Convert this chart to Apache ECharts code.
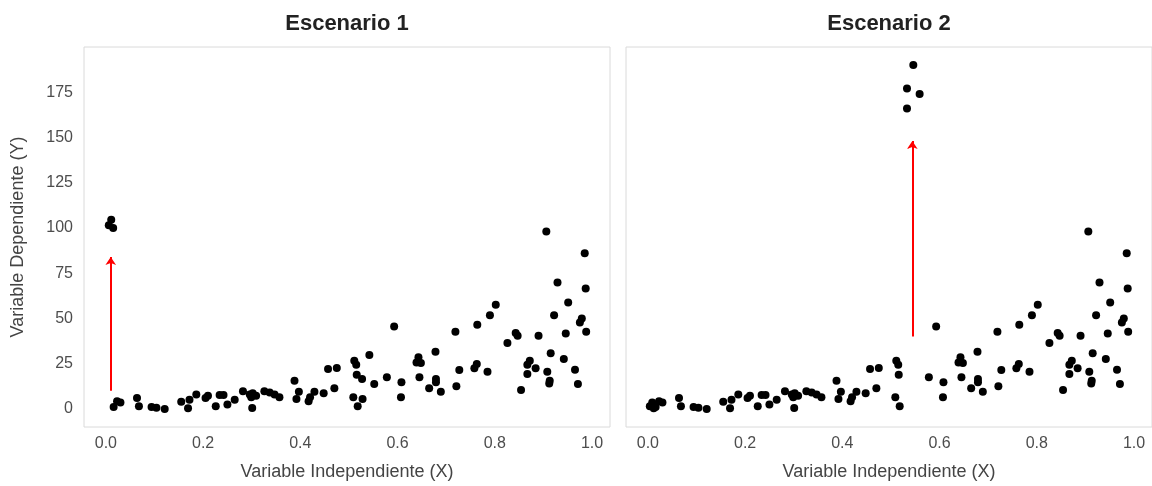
<!DOCTYPE html>
<html>
<head>
<meta charset="utf-8">
<script src="https://cdn.jsdelivr.net/npm/echarts@6/dist/echarts.min.js"></script>
<style>
  html, body { margin: 0; padding: 0; background: #ffffff; }
  #chart { width: 1152px; height: 486px; }
</style>
</head>
<body>
<div id="chart"></div>
<script>
// Shared observations (present in both scenarios)
const baseX = [0.016, 0.023, 0.030, 0.064, 0.068, 0.094, 0.104, 0.121, 0.155, 0.169, 0.172,
  0.186, 0.205, 0.210, 0.226, 0.234, 0.242, 0.250, 0.265, 0.282, 0.296, 0.299, 0.302, 0.301, 0.309,
  0.326, 0.337, 0.347, 0.357, 0.388, 0.397, 0.392, 0.417, 0.420, 0.429, 0.448, 0.457, 0.470, 0.475,
  0.511, 0.515, 0.516, 0.509, 0.518,
  0.578, 0.593, 0.608, 0.607,
  0.643, 0.639, 0.648, 0.645, 0.678, 0.665, 0.679, 0.679, 0.689,
  0.719, 0.727, 0.721, 0.758, 0.763, 0.764, 0.785, 0.790, 0.802,
  0.826, 0.843, 0.847, 0.854, 0.867, 0.872, 0.867, 0.884, 0.890,
  0.906, 0.908, 0.913, 0.912, 0.915, 0.922, 0.929,
  0.942, 0.946, 0.951, 0.965, 0.971, 0.975, 0.979, 0.985, 0.987, 0.988];
const baseY = [1.0, 4.2, 3.5, 6.0, 1.5, 1.0, 0.6, 0.0, 4.0, 0.3, 5.0,
  8.0, 6.0, 7.3, 1.5, 7.7, 7.7, 2.4, 5.0, 9.7, 7.9, 6.4, 8.6, 0.5, 7.3,
  9.7, 9.1, 7.9, 6.4, 15.6, 9.5, 5.5, 4.2, 6.4, 9.5, 8.7, 22.0, 11.4, 22.6,
  26.6, 24.4, 18.9, 6.4, 1.5,
  17.5, 45.6, 14.7, 6.4,
  28.5, 25.7, 25.4, 17.5, 31.6, 11.4, 16.5, 14.7, 9.5,
  42.6, 21.5, 12.5, 22.4, 24.8, 46.5, 20.6, 51.8, 57.5,
  36.4, 41.9, 40.4, 10.5, 24.4, 26.6, 19.3, 22.4, 40.4,
  98.0, 20.6, 15.6, 14.0, 30.7, 51.8, 69.8,
  27.6, 41.7, 58.8, 21.7, 13.8, 47.8, 50.0, 86.0, 66.5, 42.6];

// Escenario 1: mid-range points kept, low-x points raised
const s1MidX = [0.527, 0.528, 0.542, 0.552];
const s1MidY = [16.5, 5.5, 29.8, 13.8];
const s1OutX = [0.006, 0.011, 0.015];
const s1OutY = [101.5, 104.5, 100.0];

// Escenario 2: low-x points kept, mid-range points raised
const s2LowX = [0.004, 0.009, 0.012];
const s2LowY = [1.5, 3.6, 0.4];
const s2OutX = [0.546, 0.533, 0.559, 0.533];
const s2OutY = [190.0, 177.0, 174.0, 166.0];

// Shift arrows
const arrowX = [0.010, 0.544];
const arrowFrom = [10, 40];
const arrowTo = [84, 148];

const xTicks = [0, 0.2, 0.4, 0.6, 0.8, 1.0];
const yTicks = [0, 25, 50, 75, 100, 125, 150, 175];
const panelTitles = ['Escenario 1', 'Escenario 2'];

const zip = (xs, ys) => xs.map((x, i) => [x, ys[i]]);
const FONT = '"Liberation Sans", Arial, Helvetica, sans-serif';

const panel1 = zip(baseX, baseY).concat(zip(s1MidX, s1MidY), zip(s1OutX, s1OutY));
const panel2 = zip(baseX, baseY).concat(zip(s2LowX, s2LowY), zip(s2OutX, s2OutY));

const grids = [
  { left: 84, top: 47, width: 526, height: 381 },
  { left: 626, top: 47, width: 526, height: 381 }
].map(g => Object.assign(g, {
  show: true, borderColor: '#dadada', borderWidth: 1, backgroundColor: '#ffffff', containLabel: false
}));

function makeX(idx) {
  return {
    type: 'value', gridIndex: idx, min: -0.045, max: 1.037,
    name: 'Variable Independiente (X)', nameLocation: 'middle', nameGap: 36,
    nameTextStyle: { fontFamily: FONT, fontSize: 18, color: '#444444' },
    axisLine: { show: false }, axisTick: { show: false }, splitLine: { show: false },
    axisLabel: {
      customValues: xTicks, margin: 9, fontFamily: FONT, fontSize: 16, color: '#4d4d4d',
      formatter: v => Number(v).toFixed(1)
    }
  };
}
function makeY(idx) {
  return {
    type: 'value', gridIndex: idx, min: -10, max: 200,
    name: idx === 0 ? 'Variable Dependiente (Y)' : '', nameLocation: 'middle', nameGap: 57,
    nameTextStyle: { fontFamily: FONT, fontSize: 18, color: '#444444' },
    axisLine: { show: false }, axisTick: { show: false }, splitLine: { show: false },
    axisLabel: {
      show: idx === 0, customValues: yTicks, margin: 11, fontFamily: FONT, fontSize: 16, color: '#4d4d4d'
    }
  };
}

const scatterStyle = { color: '#000000', opacity: 1 };

const option = {
  animation: false,
  backgroundColor: '#ffffff',
  grid: grids,
  xAxis: [makeX(0), makeX(1)],
  yAxis: [makeY(0), makeY(1)],
  graphic: panelTitles.map((t, i) => ({
    type: 'text',
    x: grids[i].left + grids[i].width / 2,
    y: 24,
    style: {
      text: t, textAlign: 'center', textVerticalAlign: 'middle',
      font: 'bold 22px ' + FONT, fill: '#222222'
    }
  })),
  series: [
    { type: 'scatter', xAxisIndex: 0, yAxisIndex: 0, data: panel1, symbolSize: 8, itemStyle: scatterStyle },
    { type: 'scatter', xAxisIndex: 1, yAxisIndex: 1, data: panel2, symbolSize: 8, itemStyle: scatterStyle }
  ].concat(arrowX.map((x, i) => ({
    type: 'lines', coordinateSystem: 'cartesian2d', xAxisIndex: i, yAxisIndex: i,
    symbol: ['none', 'arrow'], symbolSize: 8,
    lineStyle: { color: '#ff0000', width: 2, opacity: 1 },
    data: [{ coords: [[x, arrowFrom[i]], [x, arrowTo[i]]] }],
    z: 3
  })))
};

echarts.init(document.getElementById('chart'), null, { renderer: 'canvas' }).setOption(option);
</script>
</body>
</html>
